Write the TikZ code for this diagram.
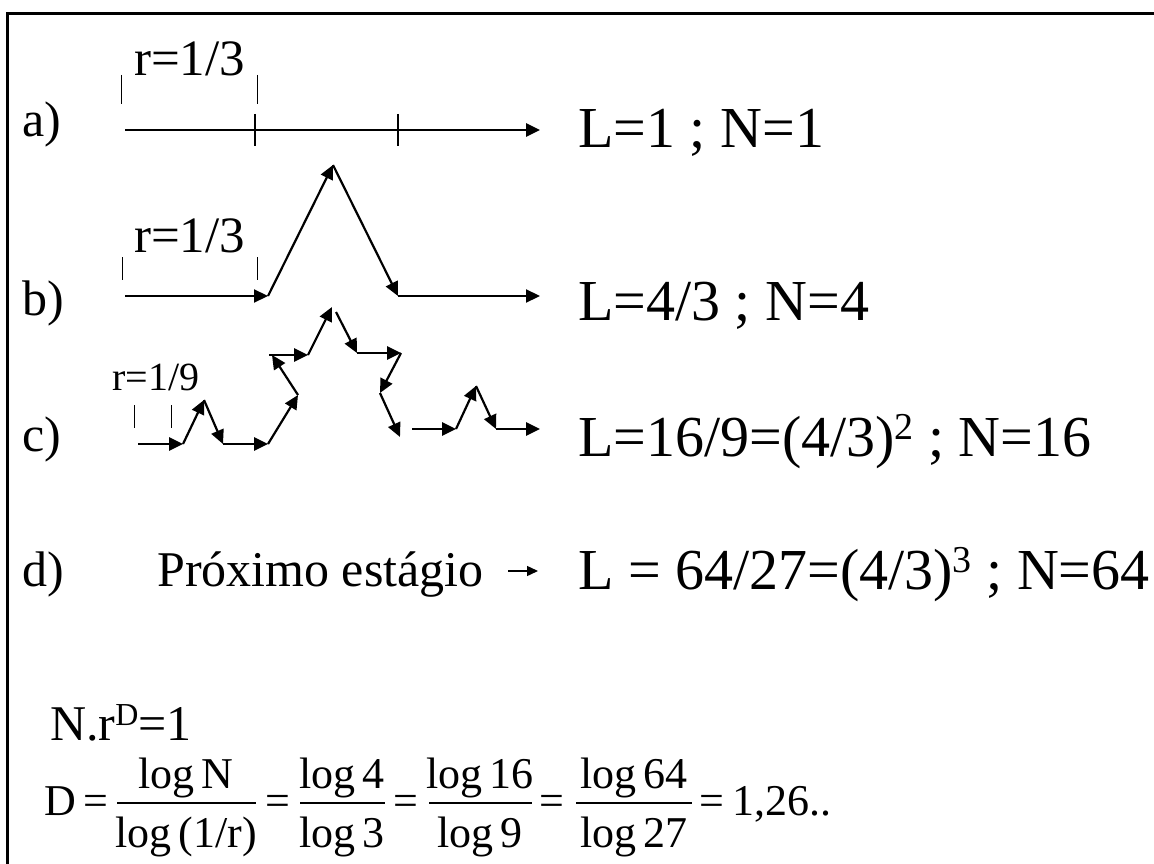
\documentclass[tikz,border=0pt]{standalone}
\usepackage{fontspec}
\setmainfont{Liberation Serif}
\usetikzlibrary{arrows.meta}
\newcommand{\bigsup}[1]{\raisebox{0.28em}{\fontsize{38}{38}\selectfont #1}}
\newcommand{\labsup}[1]{\raisebox{0.3em}{\fontsize{32}{32}\selectfont #1}}
\begin{document}
\begin{tikzpicture}[x=1pt,y=-1pt,
  big/.style={font=\fontsize{58}{60}\selectfont, inner sep=0pt, anchor=base west},
  lab/.style={font=\fontsize{50}{52}\selectfont, inner sep=0pt, anchor=base west},
  rr/.style={font=\fontsize{51}{52}\selectfont, inner sep=0pt, anchor=base west},
  rs/.style={font=\fontsize{40}{42}\selectfont, inner sep=0pt, anchor=base west},
  fm/.style={font=\fontsize{44}{46}\selectfont, inner sep=0pt, anchor=base},
  fml/.style={font=\fontsize{44}{46}\selectfont, inner sep=0pt, anchor=base west},
  seg/.style={line width=2.2pt, -{Triangle[length=14pt,width=13pt]}},
  hseg/.style={line width=2.6pt, -{Triangle[length=14pt,width=13pt]}},
  tick/.style={line width=1pt},
  cross/.style={line width=2pt},
  fbar/.style={line width=1.6pt},
]
\fill[white] (0,0) rectangle (1154,864);
\useasboundingbox (0,0) rectangle (1154,864);
\draw[line width=3pt] (7.5,864) -- (7.5,14) -- (1154,14);

% ---------- a) ----------
\node[lab] (la) at (22,137) {a)};
\node[rr] (ra) at (134,76) {r=1/3};
\draw[tick] (121,75) -- (121,104);
\draw[tick] (257,75) -- (257,104);
\coordinate (a0) at (125,130);
\coordinate (a1) at (540,130);
\draw[hseg] (a0) -- (a1);
\draw[cross] (255,114) -- (255,146);
\draw[cross] (398,114) -- (398,146);
\node[big] (ta) at (578,147) {L=1 ; N=1};

% ---------- b) ----------
\node[lab] (lb) at (22,315) {b)};
\node[rr] (rb) at (134,252) {r=1/3};
\draw[tick] (122,257) -- (122,280);
\draw[tick] (257,257) -- (257,280);
\coordinate (b0) at (125,296);
\coordinate (b1) at (268,296);
\coordinate (b2) at (333,165);
\coordinate (b3) at (398,296);
\coordinate (b4) at (540,296);
\draw[seg] (b0) -- (b1);
\draw[seg] (b1) -- (b2);
\draw[seg] (b2) -- (b3);
\draw[seg] (b3) -- (b4);
\node[big] (tb) at (578,320) {L=4/3 ; N=4};

% ---------- c) ----------
\node[lab] (lc) at (22,451) {c)};
\node[rs] (rc) at (112,390) {r=1/9};
\draw[tick] (134,405) -- (134,428);
\draw[tick] (171,405) -- (171,428);
\coordinate (c0) at (138,444);
\coordinate (c1) at (183,444);
\coordinate (c2) at (204,400);
\coordinate (c3) at (223,444);
\coordinate (c4) at (268,444);
\coordinate (c5) at (298,395);
\coordinate (c6) at (272,355);
\coordinate (c6b) at (269,355);
\coordinate (c7) at (308,355);
\coordinate (c8) at (332,307);
\coordinate (c8b) at (336,312);
\coordinate (c9) at (357,353);
\coordinate (c10) at (401,353);
\coordinate (c11) at (380,393);
\coordinate (c12) at (400,437);
\coordinate (c13) at (412,429);
\coordinate (c14) at (456,429);
\coordinate (c15) at (476,386);
\coordinate (c16) at (496,429);
\coordinate (c17) at (540,429);
\draw[hseg] (c0) -- (c1);
\draw[seg] (c1) -- (c2);
\draw[seg] (c2) -- (c3);
\draw[hseg] (c3) -- (c4);
\draw[seg] (c4) -- (c5);
\draw[seg] (c5) -- (c6);
\draw[hseg] (c6b) -- (c7);
\draw[seg] (c7) -- (c8);
\draw[seg] (c8b) -- (c9);
\draw[hseg] (c9) -- (c10);
\draw[seg] (c10) -- (c11);
\draw[seg] (c11) -- (c12);
\draw[hseg] (c13) -- (c14);
\draw[seg] (c14) -- (c15);
\draw[seg] (c15) -- (c16);
\draw[hseg] (c16) -- (c17);
\node[big] (tc) at (578,456) {L=16/9=(4/3)\bigsup{2} ; N=16};

% ---------- d) ----------
\node[lab] (ld) at (22,586) {d)};
\node[lab] (pe) at (157,586) {Próximo estágio};
\coordinate (p0) at (508,571);
\coordinate (p1) at (538,571);
\draw[line width=1.4pt, -{Triangle[length=11pt,width=10pt]}] (p0) -- (p1);
\node[big] (td) at (578,589) {L = 64/27=(4/3)\bigsup{3} ; N=64};

% ---------- formulas ----------
\node[lab] (nr) at (50,740) {N.r\labsup{D}=1};

\node[fml] (fD) at (44,815) {D};
\node[fm] (e1) at (96,815) {=};
\draw[fbar] (117,803) -- (256,803);
\node[fm] (n1) at (186,788) {log\,N};
\node[fm] (d1) at (186,847) {log\,(1/r)};
\node[fm] (e2) at (278,815) {=};
\draw[fbar] (300,803) -- (385,803);
\node[fm] (n2) at (342,788) {log\,4};
\node[fm] (d2) at (342,847) {log\,3};
\node[fm] (e3) at (406,815) {=};
\draw[fbar] (429,803) -- (532,803);
\node[fm] (n3) at (480,788) {log\,16};
\node[fm] (d3) at (480,847) {log\,9};
\node[fm] (e4) at (552,815) {=};
\draw[fbar] (576,803) -- (692,803);
\node[fm] (n4) at (634,788) {log\,64};
\node[fm] (d4) at (634,847) {log\,27};
\node[fm] (e5) at (712,815) {=};
\node[fml] (res) at (732,815) {1,26..};
\end{tikzpicture}
\end{document}
